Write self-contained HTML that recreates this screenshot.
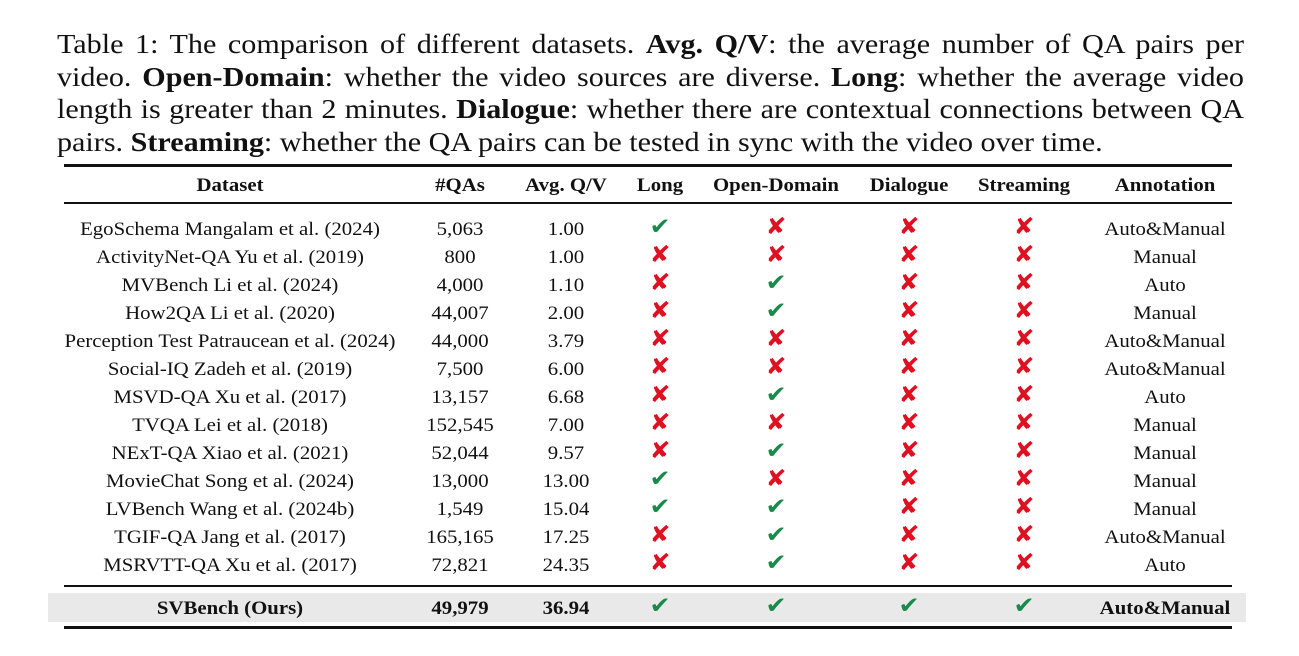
<!DOCTYPE html>
<html><head><meta charset="utf-8"><style>
body{margin:0;width:1299px;height:656px;background:#fff;position:relative;overflow:hidden;font-family:"Liberation Serif",serif;color:#111}
.cap{position:absolute;left:57px;width:1084px;top:28px;font-size:27.5px;line-height:32.5px;text-align:justify;text-align-last:left;transform:scaleX(1.095);transform-origin:0 0}
.rule{position:absolute;left:64px;width:1168px;background:#111}
.c{position:absolute;transform:translate(-50%,-50%) scaleX(1.095);white-space:nowrap;font-size:19px}
.h{font-weight:bold}
.y{color:#1a8a4a;font-family:"DejaVu Sans",sans-serif;font-size:23px}
.n{color:#e01020;font-family:"DejaVu Sans",sans-serif;font-size:23px}
.band{position:absolute;left:48px;width:1198px;top:593px;height:29px;background:#e9e9e9}
</style></head><body>
<div class="cap">Table 1: The comparison of different datasets. <b>Avg. Q/V</b>: the average number of QA pairs per video. <b>Open-Domain</b>: whether the video sources are diverse. <b>Long</b>: whether the average video length is greater than 2 minutes. <b>Dialogue</b>: whether there are contextual connections between QA pairs. <b>Streaming</b>: whether the QA pairs can be tested in sync with the video over time.</div>
<div class="rule" style="top:164px;height:3px"></div>
<div class="rule" style="top:202px;height:1.5px"></div>
<div class="rule" style="top:585px;height:1.5px"></div>
<div class="band"></div>
<div class="rule" style="top:626px;height:3px"></div>
<div id="t"></div>
<script>
const cols=[230,460,566,660,776,909,1024,1165];
const headers=["Dataset","#QAs","Avg. Q/V","Long","Open-Domain","Dialogue","Streaming","Annotation"];
const rows=[
["EgoSchema Mangalam et al. (2024)","5,063","1.00",1,0,0,0,"Auto&Manual"],
["ActivityNet-QA Yu et al. (2019)","800","1.00",0,0,0,0,"Manual"],
["MVBench Li et al. (2024)","4,000","1.10",0,1,0,0,"Auto"],
["How2QA Li et al. (2020)","44,007","2.00",0,1,0,0,"Manual"],
["Perception Test Patraucean et al. (2024)","44,000","3.79",0,0,0,0,"Auto&Manual"],
["Social-IQ Zadeh et al. (2019)","7,500","6.00",0,0,0,0,"Auto&Manual"],
["MSVD-QA Xu et al. (2017)","13,157","6.68",0,1,0,0,"Auto"],
["TVQA Lei et al. (2018)","152,545","7.00",0,0,0,0,"Manual"],
["NExT-QA Xiao et al. (2021)","52,044","9.57",0,1,0,0,"Manual"],
["MovieChat Song et al. (2024)","13,000","13.00",1,0,0,0,"Manual"],
["LVBench Wang et al. (2024b)","1,549","15.04",1,1,0,0,"Manual"],
["TGIF-QA Jang et al. (2017)","165,165","17.25",0,1,0,0,"Auto&Manual"],
["MSRVTT-QA Xu et al. (2017)","72,821","24.35",0,1,0,0,"Auto"]];
const ours=["SVBench (Ours)","49,979","36.94",1,1,1,1,"Auto&Manual"];
const t=document.getElementById('t');
function cell(x,y,v,cls,name){const d=document.createElement('div');d.className='c '+cls;d.style.left=x+'px';d.style.top=y+'px';
if(typeof v==='number'){d.className+=v?' y':' n';d.textContent=v?'✔':'✘';d.style.top=(y-3)+'px';}else d.textContent=v;


t.appendChild(d);}
headers.forEach((h,i)=>cell(cols[i],186,h,'h','header-'+i));
rows.forEach((r,j)=>r.forEach((v,i)=>cell(cols[i],229.5+j*28.08,v,'','row-'+j+'-col-'+i)));
ours.forEach((v,i)=>cell(cols[i],608.5,v,'h','ours-col-'+i));
</script>
</body></html>
